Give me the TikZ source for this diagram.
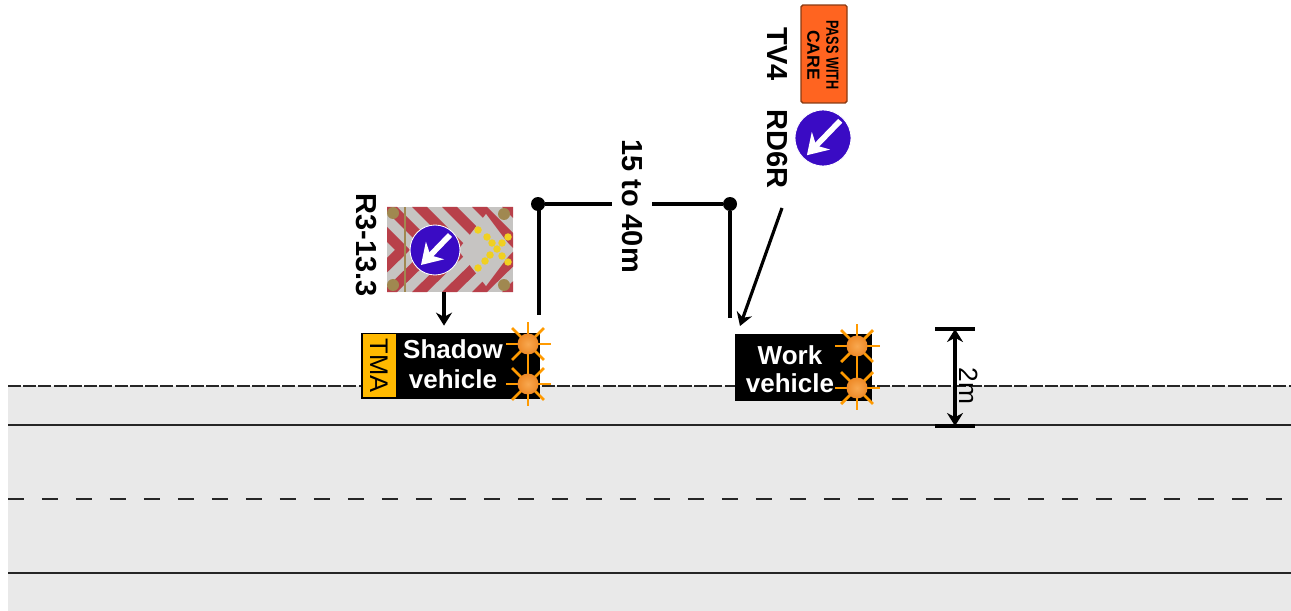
\documentclass[tikz,border=0pt]{standalone}
\usepackage{fontspec}
\setmainfont{Liberation Sans}
\usepackage{tikz}
\usetikzlibrary{positioning,arrows.meta,calc}
\definecolor{roadfill}{HTML}{E9E9E9}
\definecolor{tmafill}{HTML}{FFB900}
\definecolor{discblue}{HTML}{3A0BC4}
\definecolor{plateorange}{HTML}{FF6420}
\definecolor{plateline}{HTML}{8A3A12}
\definecolor{beaconray}{HTML}{FF9A00}
\definecolor{beaconball}{HTML}{EE8A28}
\definecolor{beaconglow}{HTML}{F8A850}
\definecolor{boardgrey}{HTML}{C6C4C2}
\definecolor{boardred}{HTML}{B8404A}
\definecolor{boardlamp}{HTML}{F0D020}
\definecolor{boardbrown}{HTML}{A08850}
\tikzset{rlabel/.style={font=\fontsize{16.5}{20}\selectfont\bfseries, inner sep=0pt, align=center}}
\tikzset{rwhite/.style={font=\fontsize{14.8}{17}\selectfont\bfseries, text=white, inner sep=0pt, align=center}}
\tikzset{rtruck/.style={rectangle, draw=black, fill=black, inner sep=0pt}}
\tikzset{rdisc/.style={circle, draw=white, fill=discblue, line width=0.5pt, inner sep=0pt, minimum size=1.0cm}}
\tikzset{rdot/.style={circle, fill=black, inner sep=0pt, minimum size=0.28cm}}
\tikzset{redge/.style={-{Stealth[length=2.6mm,width=3.2mm]}, draw=black, line width=1.8pt}}
\tikzset{rline/.style={draw=black, line width=1.8pt}}
\tikzset{rlane/.style={draw=black!85, line width=0.85pt}}
\tikzset{rdashfine/.style={rlane, dash pattern=on 0.26cm off 0.045cm}}
\tikzset{rdashwide/.style={rlane, dash pattern=on 0.33cm off 0.35cm}}
\tikzset{beacon/.pic={
    \foreach \a in {0,45,...,315} \draw[beaconray, line width=1.6pt] (0,0) -- (\a:0.45cm);
    \shade[inner color=beaconglow, outer color=beaconball] (0,0) circle (0.21cm);
}}
\tikzset{keepleft/.pic={
    \draw[white, line width=3.2pt, -{Stealth[length=4mm,width=5mm]}] (0.3cm,0.3cm) -- (-0.28cm,-0.3cm);
}}
\begin{document}
\begin{tikzpicture}[x=0.02cm, y=-0.02cm]
  \useasboundingbox (0,0) rectangle (1291,611);

  % road
  \fill[roadfill] (8,386) rectangle (1291,611);
  \draw[rdashfine] (8,386) -- (1291,386);
  \draw[rlane] (8,425) -- (1291,425);
  \draw[rdashwide] (8,499) -- (1291,499);
  \draw[rlane] (8,573) -- (1291,573);

  % shadow vehicle
  \node[rtruck, minimum width=3.56cm, minimum height=1.3cm] (shadowbox) at (450,365.5) {};
  \node[rectangle, fill=tmafill, draw=black, line width=0.4pt, minimum width=0.68cm, minimum height=1.28cm, inner sep=0pt] (tmabox) at (379,365.5) {};
  \node[rotate=-90, font=\fontsize{14.5}{17}\selectfont, inner sep=0pt] (tmatext) at (tmabox) {TMA};
  \node[rwhite] (shadowtext) at (453,364) {Shadow\\vehicle};
  \draw[beaconray, line width=1.6pt] (528,344) -- (528,384);
  \pic at (528,344) {beacon};
  \pic at (528,384) {beacon};

  % arrow board
  \node[rectangle, fill=boardgrey, minimum width=2.52cm, minimum height=1.7cm, inner sep=0pt] (boardsign) at (450,249.5) {};
  \begin{scope}
    \clip (387,207) rectangle (513,292);
    \foreach \d in {-1,...,5} {
      \fill[boardred] (352+30*\d,207) -- (367+30*\d,207) -- (410+30*\d,250) -- (367+30*\d,292) -- (352+30*\d,292) -- (395+30*\d,250) -- cycle;
    }
    \fill[boardgrey] (458,250) -- (486,214) -- (513,250) -- (486,286) -- cycle;
    \draw[boardbrown, line width=0.8pt] (405,207) -- (405,292);
    \foreach \cx/\cy in {393/213,393/285,504/214,504/285}
      \fill[boardbrown] (\cx,\cy) circle (0.12cm);
  \end{scope}
  \foreach \px/\py in {478/230,487/237,492/243,497/249,490/255,485/261,478/268,508/237,502/243,502/256,508/262}
    \fill[boardlamp] (\px,\py) circle (0.075cm);
  \node[rdisc] (boarddisc) at (435,250) {};
  \pic at (435,250) {keepleft};
  \draw[redge] ([xshift=-0.12cm]boardsign.south) -- ([xshift=-0.12cm,yshift=0.14cm]shadowbox.north);
  \node[rlabel, rotate=-90] (boardlabel) at (366,245) {R3-13.3};

  % work vehicle
  \node[rtruck, minimum width=2.72cm, minimum height=1.32cm] (workbox) at (803,367) {};
  \node[rwhite, font=\fontsize{14.8}{16}\selectfont\bfseries] (worktext) at (790,369) {Work\\vehicle};
  \draw[beaconray, line width=1.6pt] (857,346) -- (857,388);
  \pic at (857,346) {beacon};
  \pic at (857,388) {beacon};

  % roadside signs
  \node[rectangle, rounded corners=1pt, fill=plateorange, draw=plateline, line width=0.8pt, minimum width=0.92cm, minimum height=1.96cm, inner sep=0pt] (careplate) at (824,54) {};
  \node[rotate=-90, font=\fontsize{10}{10.8}\selectfont\bfseries, align=center, inner sep=0pt] (caretext) at (823,55) {\scalebox{0.72}[1]{PASS WITH}\\CARE};
  \node[rdisc, minimum size=1.12cm] (rddisc) at (823,138) {};
  \pic[scale=1.15] at (823,138) {keepleft};
  \node[rlabel, rotate=-90] (tvlabel) at (777,54) {TV4};
  \node[rlabel, rotate=-90] (rdlabel) at (777,149) {RD6R};
  \coordinate (rdtail) at (782,208);
  \coordinate (rdtip) at (740,326);
  \draw[redge] (rdtail) -- (rdtip);

  % 15 to 40m spacing
  \node[rdot] (dotshadow) at (538,204) {};
  \node[rdot] (dotwork) at (730,204) {};
  \coordinate (footshadow) at (539,315);
  \coordinate (footwork) at (730,318);
  \draw[rline] (dotshadow) -- (dotwork);
  \draw[rline] (dotshadow.center -| footshadow) -- (footshadow);
  \draw[rline] (dotwork) -- (footwork);
  \node[rlabel, rotate=-90, fill=white, minimum height=0.8cm] (gaplabel) at (632,206) {15 to 40m};

  % 2m dimension
  \coordinate (dimtop) at (955,329);
  \coordinate (dimbot) at (955,426);
  \draw[rline] ([xshift=-0.4cm]dimtop) -- ([xshift=0.4cm]dimtop);
  \draw[rline] ([xshift=-0.4cm]dimbot) -- ([xshift=0.4cm]dimbot);
  \draw[{Stealth[length=2.6mm,width=3.2mm]}-{Stealth[length=2.6mm,width=3.2mm]}, rline] (dimtop) -- (dimbot);
  \node[rotate=-90, font=\fontsize{15}{18}\selectfont, inner sep=0pt] (dimlabel) at (969,386) {2m};
\end{tikzpicture}
\end{document}
